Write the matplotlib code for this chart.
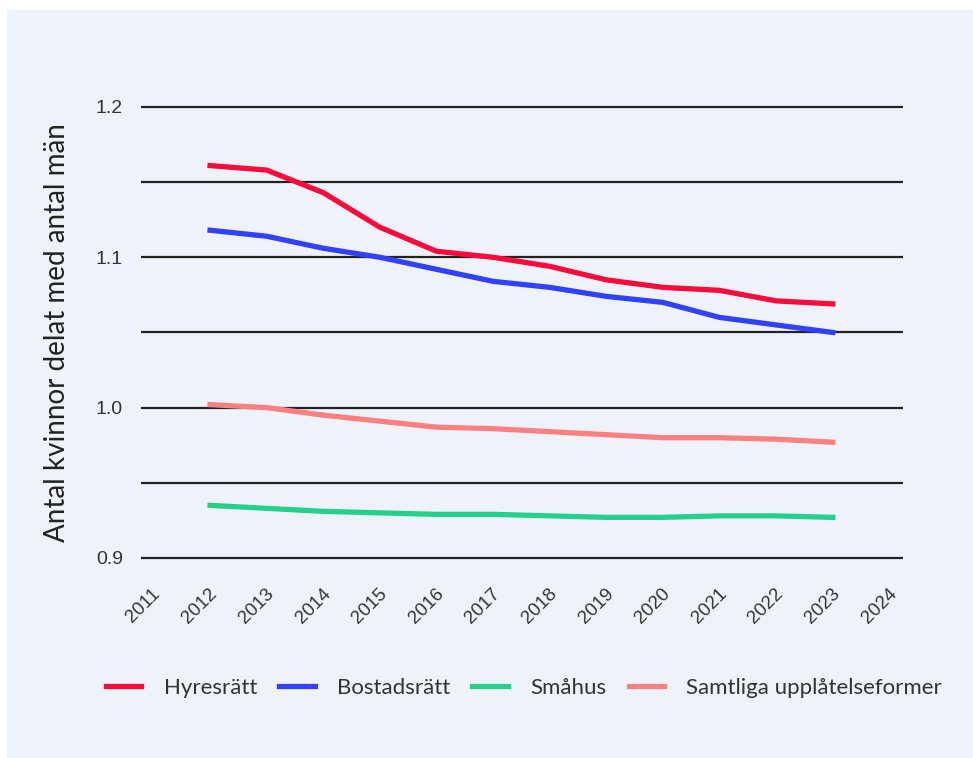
import numpy as np
import matplotlib.pyplot as plt
import matplotlib.transforms as mtransforms
from matplotlib.patches import Rectangle
from matplotlib.ticker import MultipleLocator

# kvinnor / män per upplåtelseform
years = np.arange(2012, 2024)
hyresratt = [1.161, 1.158, 1.143, 1.120, 1.104, 1.100, 1.094, 1.085, 1.080, 1.078, 1.071, 1.069]
bostadsratt = [1.118, 1.114, 1.106, 1.100, 1.092, 1.084, 1.080, 1.074, 1.070, 1.060, 1.055, 1.050]
smahus = [0.935, 0.933, 0.931, 0.930, 0.929, 0.929, 0.928, 0.927, 0.927, 0.928, 0.928, 0.927]
samtliga = [1.002, 1.000, 0.995, 0.991, 0.987, 0.986, 0.984, 0.982, 0.980, 0.980, 0.979, 0.977]

tick_years = np.arange(2011, 2025)

bg = '#eef3fa'
plt.rcParams['font.family'] = ['Lato', 'DejaVu Sans']

fig = plt.figure(figsize=(9.73, 7.58), dpi=100)
fig.patch.set_facecolor('white')
# ljusblå panel bakom diagrammet
fig.patches.append(Rectangle((7 / 973, 0), 1, 1 - 10 / 758, transform=fig.transFigure,
                             facecolor=bg, edgecolor='none', zorder=-1))

ax = fig.add_axes([0.1449, 0.2540, 0.7831, 0.6148])
ax.set_facecolor(bg)

lw = 3.8
ax.plot(years, hyresratt, color='#ff0a3c', lw=lw, label='Hyresrätt', zorder=3)
ax.plot(years, bostadsratt, color='#3141ff', lw=lw, label='Bostadsrätt', zorder=3)
ax.plot(years, smahus, color='#25d08a', lw=lw, label='Småhus', zorder=3)
ax.plot(years, samtliga, color='#ff8080', lw=lw, label='Samtliga upplåtelseformer', zorder=3)

ax.set_xlim(2010.78, 2024.24)
ax.set_ylim(0.895, 1.205)

ax.yaxis.set_major_locator(MultipleLocator(0.1))
ax.yaxis.set_minor_locator(MultipleLocator(0.05))
ax.grid(axis='y', which='both', color='#222222', lw=1.6, zorder=1)
ax.tick_params(axis='y', which='both', length=0, pad=13, labelsize=14, labelcolor='#333333')
for t in ax.get_yticklabels():
    t.set_family('Liberation Sans')

ax.set_xticks(tick_years)
ax.set_xticklabels([str(y) for y in tick_years], rotation=45, ha='center',
                   family='Liberation Sans', fontsize=13.5, color='#333333')
ax.tick_params(axis='x', length=0, pad=14)
shift = mtransforms.ScaledTranslation(-0.10, 0, fig.dpi_scale_trans)
for t in ax.get_xticklabels():
    t.set_transform(t.get_transform() + shift)

for s in ax.spines.values():
    s.set_visible(False)

ax.set_ylabel('Antal kvinnor delat med antal män', fontsize=20, color='#222222')
ax.yaxis.set_label_coords(-0.093, 0.5)

fig.legend(loc='center', bbox_to_anchor=(0.5385, 0.092), ncol=4, frameon=False,
           fontsize=16, handlelength=1.6, handletextpad=1.0, columnspacing=1.0,
           labelcolor='#333333')

fig.savefig('out.png', dpi=100, facecolor=fig.get_facecolor())
